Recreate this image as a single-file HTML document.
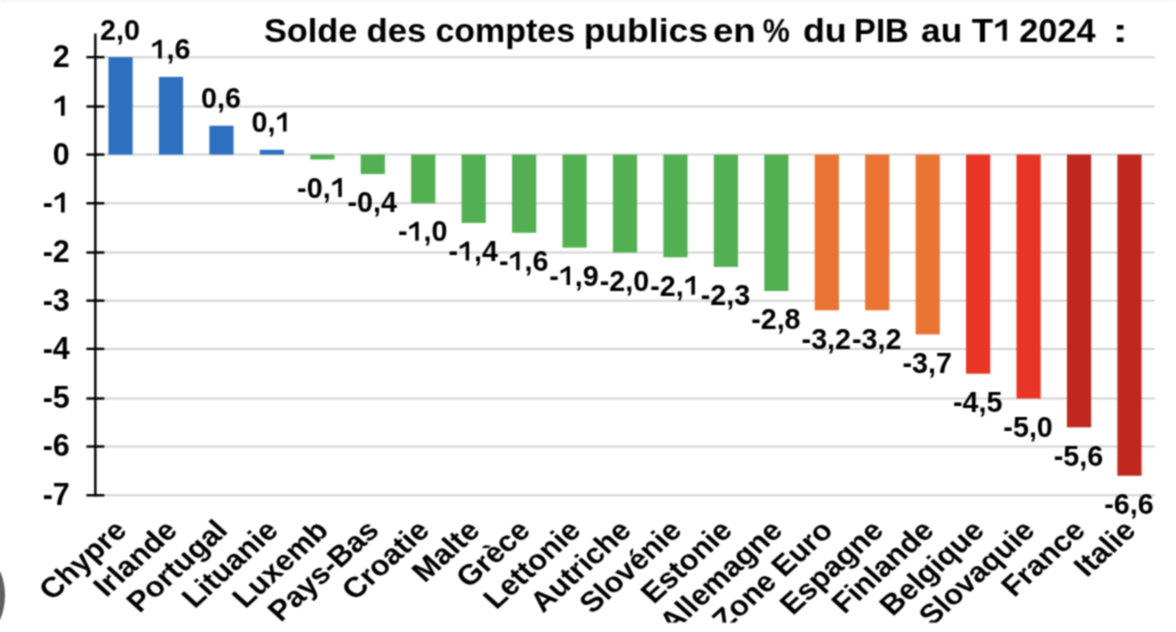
<!DOCTYPE html>
<html><head><meta charset="utf-8"><style>
html,body{margin:0;padding:0;background:#fff;overflow:hidden}
svg{display:block}
text{font-family:"Liberation Sans",sans-serif;font-weight:bold;font-kerning:none}
</style></head><body>
<svg width="1176" height="632" viewBox="0 0 1176 632">
<defs><filter id="bl" x="0" y="0" width="1176" height="632" filterUnits="userSpaceOnUse" color-interpolation-filters="sRGB"><feConvolveMatrix order="3" kernelMatrix="1 2 1 2 4 2 1 2 1" edgeMode="duplicate"/></filter><path id="one" d="M793 50L793 1385L600 1385Q420 1210 118 1075L118 850Q360 940 548 1075L548 50Z"/></defs>
<g filter="url(#bl)"><rect width="1176" height="632" fill="#fff"/>
<rect x="1" y="0" width="1173" height="1.6" fill="#f6f6f6"/>
<line x1="95.34" y1="57.14" x2="1154.71" y2="57.14" stroke="#d3d3d3" stroke-width="2"/>
<line x1="95.34" y1="106.50" x2="1154.71" y2="106.50" stroke="#d3d3d3" stroke-width="2"/>
<line x1="95.34" y1="154.60" x2="1154.71" y2="154.60" stroke="#d3d3d3" stroke-width="2"/>
<line x1="95.34" y1="203.27" x2="1154.71" y2="203.27" stroke="#d3d3d3" stroke-width="2"/>
<line x1="95.34" y1="252.50" x2="1154.71" y2="252.50" stroke="#d3d3d3" stroke-width="2"/>
<line x1="95.34" y1="300.65" x2="1154.71" y2="300.65" stroke="#d3d3d3" stroke-width="2"/>
<line x1="95.34" y1="348.90" x2="1154.71" y2="348.90" stroke="#d3d3d3" stroke-width="2"/>
<line x1="95.34" y1="398.50" x2="1154.71" y2="398.50" stroke="#d3d3d3" stroke-width="2"/>
<line x1="95.34" y1="446.50" x2="1154.71" y2="446.50" stroke="#d3d3d3" stroke-width="2"/>
<line x1="95.34" y1="495.27" x2="1154.71" y2="495.27" stroke="#d3d3d3" stroke-width="2"/>
<rect x="108.46" y="57.14" width="24.2" height="97.46" fill="#2D70BF"/>
<rect x="158.91" y="76.88" width="24.2" height="77.72" fill="#2D70BF"/>
<rect x="209.35" y="125.74" width="24.2" height="28.86" fill="#2D70BF"/>
<rect x="259.80" y="149.79" width="24.2" height="4.81" fill="#2D70BF"/>
<rect x="310.25" y="154.60" width="24.2" height="4.87" fill="#52B052"/>
<rect x="360.69" y="154.60" width="24.2" height="19.47" fill="#52B052"/>
<rect x="411.14" y="154.60" width="24.2" height="48.67" fill="#52B052"/>
<rect x="461.58" y="154.60" width="24.2" height="68.36" fill="#52B052"/>
<rect x="512.03" y="154.60" width="24.2" height="78.21" fill="#52B052"/>
<rect x="562.48" y="154.60" width="24.2" height="92.98" fill="#52B052"/>
<rect x="612.92" y="154.60" width="24.2" height="97.90" fill="#52B052"/>
<rect x="663.37" y="154.60" width="24.2" height="102.72" fill="#52B052"/>
<rect x="713.81" y="154.60" width="24.2" height="112.34" fill="#52B052"/>
<rect x="764.26" y="154.60" width="24.2" height="136.42" fill="#52B052"/>
<rect x="814.71" y="154.60" width="24.2" height="155.70" fill="#E97434"/>
<rect x="865.15" y="154.60" width="24.2" height="155.70" fill="#E97434"/>
<rect x="915.60" y="154.60" width="24.2" height="179.83" fill="#E97434"/>
<rect x="966.04" y="154.60" width="24.2" height="219.10" fill="#E83526"/>
<rect x="1016.49" y="154.60" width="24.2" height="243.90" fill="#E83526"/>
<rect x="1066.94" y="154.60" width="24.2" height="272.70" fill="#C0271F"/>
<rect x="1117.38" y="154.60" width="24.2" height="321.16" fill="#C0271F"/>
<line x1="95.34" y1="33.40" x2="95.34" y2="496.27" stroke="#000" stroke-width="2.4"/>
<line x1="86.34" y1="57.14" x2="104.34" y2="57.14" stroke="#000" stroke-width="2.4"/>
<line x1="86.34" y1="106.50" x2="104.34" y2="106.50" stroke="#000" stroke-width="2.4"/>
<line x1="86.34" y1="154.60" x2="104.34" y2="154.60" stroke="#000" stroke-width="2.4"/>
<line x1="86.34" y1="203.27" x2="104.34" y2="203.27" stroke="#000" stroke-width="2.4"/>
<line x1="86.34" y1="252.50" x2="104.34" y2="252.50" stroke="#000" stroke-width="2.4"/>
<line x1="86.34" y1="300.65" x2="104.34" y2="300.65" stroke="#000" stroke-width="2.4"/>
<line x1="86.34" y1="348.90" x2="104.34" y2="348.90" stroke="#000" stroke-width="2.4"/>
<line x1="86.34" y1="398.50" x2="104.34" y2="398.50" stroke="#000" stroke-width="2.4"/>
<line x1="86.34" y1="446.50" x2="104.34" y2="446.50" stroke="#000" stroke-width="2.4"/>
<line x1="86.34" y1="495.27" x2="104.34" y2="495.27" stroke="#000" stroke-width="2.4"/>
<g fill="#000">
<text transform="translate(52.84,67.04) scale(1.0000,1)" font-size="30.5">2</text>
<text transform="translate(52.84,116.40) scale(1.0000,1)" font-size="30.5"> </text>
<use href="#one" transform="translate(52.84,116.40) scale(0.01489,-0.01489)"/>
<text transform="translate(52.84,164.50) scale(1.0000,1)" font-size="30.5">0</text>
<text transform="translate(42.68,213.17) scale(1.0000,1)" font-size="30.5">- </text>
<use href="#one" transform="translate(52.84,213.17) scale(0.01489,-0.01489)"/>
<text transform="translate(42.68,262.40) scale(1.0000,1)" font-size="30.5">-2</text>
<text transform="translate(42.68,310.55) scale(1.0000,1)" font-size="30.5">-3</text>
<text transform="translate(42.68,358.80) scale(1.0000,1)" font-size="30.5">-4</text>
<text transform="translate(42.68,408.40) scale(1.0000,1)" font-size="30.5">-5</text>
<text transform="translate(42.68,456.40) scale(1.0000,1)" font-size="30.5">-6</text>
<text transform="translate(42.68,505.17) scale(1.0000,1)" font-size="30.5">-7</text>
<text transform="translate(100.11,39.54) scale(0.9900,1)" font-size="29">2,0</text>
<text transform="translate(150.55,59.28) scale(0.9900,1)" font-size="29"> ,6</text>
<use href="#one" transform="translate(150.55,59.28) scale(0.01402,-0.01416)"/>
<text transform="translate(201.00,108.14) scale(0.9900,1)" font-size="29">0,6</text>
<text transform="translate(251.45,132.19) scale(0.9900,1)" font-size="29">0, </text>
<use href="#one" transform="translate(275.39,132.19) scale(0.01402,-0.01416)"/>
<text transform="translate(297.11,197.67) scale(0.9900,1)" font-size="29">-0, </text>
<use href="#one" transform="translate(330.62,197.67) scale(0.01402,-0.01416)"/>
<text transform="translate(347.56,212.27) scale(0.9900,1)" font-size="29">-0,4</text>
<text transform="translate(398.00,241.47) scale(0.9900,1)" font-size="29">- ,0</text>
<use href="#one" transform="translate(407.56,241.47) scale(0.01402,-0.01416)"/>
<text transform="translate(448.45,261.16) scale(0.9900,1)" font-size="29">- ,4</text>
<use href="#one" transform="translate(458.01,261.16) scale(0.01402,-0.01416)"/>
<text transform="translate(498.90,271.01) scale(0.9900,1)" font-size="29">- ,6</text>
<use href="#one" transform="translate(508.46,271.01) scale(0.01402,-0.01416)"/>
<text transform="translate(549.34,285.78) scale(0.9900,1)" font-size="29">- ,9</text>
<use href="#one" transform="translate(558.90,285.78) scale(0.01402,-0.01416)"/>
<text transform="translate(599.79,290.70) scale(0.9900,1)" font-size="29">-2,0</text>
<text transform="translate(650.23,295.51) scale(0.9900,1)" font-size="29">-2, </text>
<use href="#one" transform="translate(683.74,295.51) scale(0.01402,-0.01416)"/>
<text transform="translate(700.68,305.14) scale(0.9900,1)" font-size="29">-2,3</text>
<text transform="translate(751.13,329.22) scale(0.9900,1)" font-size="29">-2,8</text>
<text transform="translate(801.57,348.50) scale(0.9900,1)" font-size="29">-3,2</text>
<text transform="translate(852.02,348.50) scale(0.9900,1)" font-size="29">-3,2</text>
<text transform="translate(902.46,372.62) scale(0.9900,1)" font-size="29">-3,7</text>
<text transform="translate(952.91,411.90) scale(0.9900,1)" font-size="29">-4,5</text>
<text transform="translate(1003.36,436.70) scale(0.9900,1)" font-size="29">-5,0</text>
<text transform="translate(1053.80,465.50) scale(0.9900,1)" font-size="29">-5,6</text>
<text transform="translate(1104.25,513.96) scale(0.9900,1)" font-size="29">-6,6</text>
<text transform="translate(128.36,532.00) scale(1.1,1) rotate(-45)" font-size="28.5" text-anchor="end">Chypre</text>
<text transform="translate(178.81,532.00) scale(1.1,1) rotate(-45)" font-size="28.5" text-anchor="end">Irlande</text>
<text transform="translate(229.25,532.00) scale(1.1,1) rotate(-45)" font-size="28.5" text-anchor="end">Portugal</text>
<text transform="translate(279.70,532.00) scale(1.1,1) rotate(-45)" font-size="28.5" text-anchor="end">Lituanie</text>
<text transform="translate(330.15,532.00) scale(1.1,1) rotate(-45)" font-size="28.5" text-anchor="end">Luxemb</text>
<text transform="translate(380.59,532.00) scale(1.1,1) rotate(-45)" font-size="28.5" text-anchor="end">Pays-Bas</text>
<text transform="translate(431.04,532.00) scale(1.1,1) rotate(-45)" font-size="28.5" text-anchor="end">Croatie</text>
<text transform="translate(481.48,532.00) scale(1.1,1) rotate(-45)" font-size="28.5" text-anchor="end">Malte</text>
<text transform="translate(531.93,532.00) scale(1.1,1) rotate(-45)" font-size="28.5" text-anchor="end">Grèce</text>
<text transform="translate(582.38,532.00) scale(1.1,1) rotate(-45)" font-size="28.5" text-anchor="end">Lettonie</text>
<text transform="translate(632.82,532.00) scale(1.1,1) rotate(-45)" font-size="28.5" text-anchor="end">Autriche</text>
<text transform="translate(683.27,532.00) scale(1.1,1) rotate(-45)" font-size="28.5" text-anchor="end">Slovénie</text>
<text transform="translate(733.71,532.00) scale(1.1,1) rotate(-45)" font-size="28.5" text-anchor="end">Estonie</text>
<text transform="translate(784.16,532.00) scale(1.1,1) rotate(-45)" font-size="28.5" text-anchor="end">Allemagne</text>
<text transform="translate(834.61,532.00) scale(1.1,1) rotate(-45)" font-size="28.5" text-anchor="end">Zone Euro</text>
<text transform="translate(885.05,532.00) scale(1.1,1) rotate(-45)" font-size="28.5" text-anchor="end">Espagne</text>
<text transform="translate(935.50,532.00) scale(1.1,1) rotate(-45)" font-size="28.5" text-anchor="end">Finlande</text>
<text transform="translate(985.94,532.00) scale(1.1,1) rotate(-45)" font-size="28.5" text-anchor="end">Belgique</text>
<text transform="translate(1036.39,532.00) scale(1.1,1) rotate(-45)" font-size="28.5" text-anchor="end">Slovaquie</text>
<text transform="translate(1086.84,532.00) scale(1.1,1) rotate(-45)" font-size="28.5" text-anchor="end">France</text>
<text transform="translate(1137.28,532.00) scale(1.1,1) rotate(-45)" font-size="28.5" text-anchor="end">Italie</text>
<text transform="translate(263.91,41.50) scale(1.0562,1)" font-size="32.5">Solde</text>
<text transform="translate(366.58,41.50) scale(1.0687,1)" font-size="32.5">des</text>
<text transform="translate(435.47,41.50) scale(1.0447,1)" font-size="32.5">comptes</text>
<text transform="translate(583.66,41.50) scale(1.0944,1)" font-size="32.5">publics</text>
<text transform="translate(712.97,41.50) scale(1.1287,1)" font-size="32.5">en</text>
<text transform="translate(762.84,41.50) scale(0.9364,1)" font-size="32.5">%</text>
<text transform="translate(802.93,41.50) scale(1.1041,1)" font-size="32.5">du</text>
<text transform="translate(854.11,41.50) scale(1.0094,1)" font-size="32.5">PIB</text>
<text transform="translate(921.07,41.50) scale(1.0852,1)" font-size="32.5">au</text>
<text transform="translate(971.81,41.50) scale(1.0788,1)" font-size="32.5">T </text>
<use href="#one" transform="translate(993.22,41.50) scale(0.01712,-0.01587)"/>
<text transform="translate(1019.31,41.50) scale(1.0550,1)" font-size="32.5">2024</text>
<text transform="translate(1112.32,41.50) scale(1.4660,1)" font-size="32.5">:</text>
</g>
<circle cx="-57.5" cy="595.5" r="62.5" fill="#5f5f5f"/>
<rect x="0" y="622.6" width="1176" height="20" fill="#fff"/>
</g></svg>
</body></html>
